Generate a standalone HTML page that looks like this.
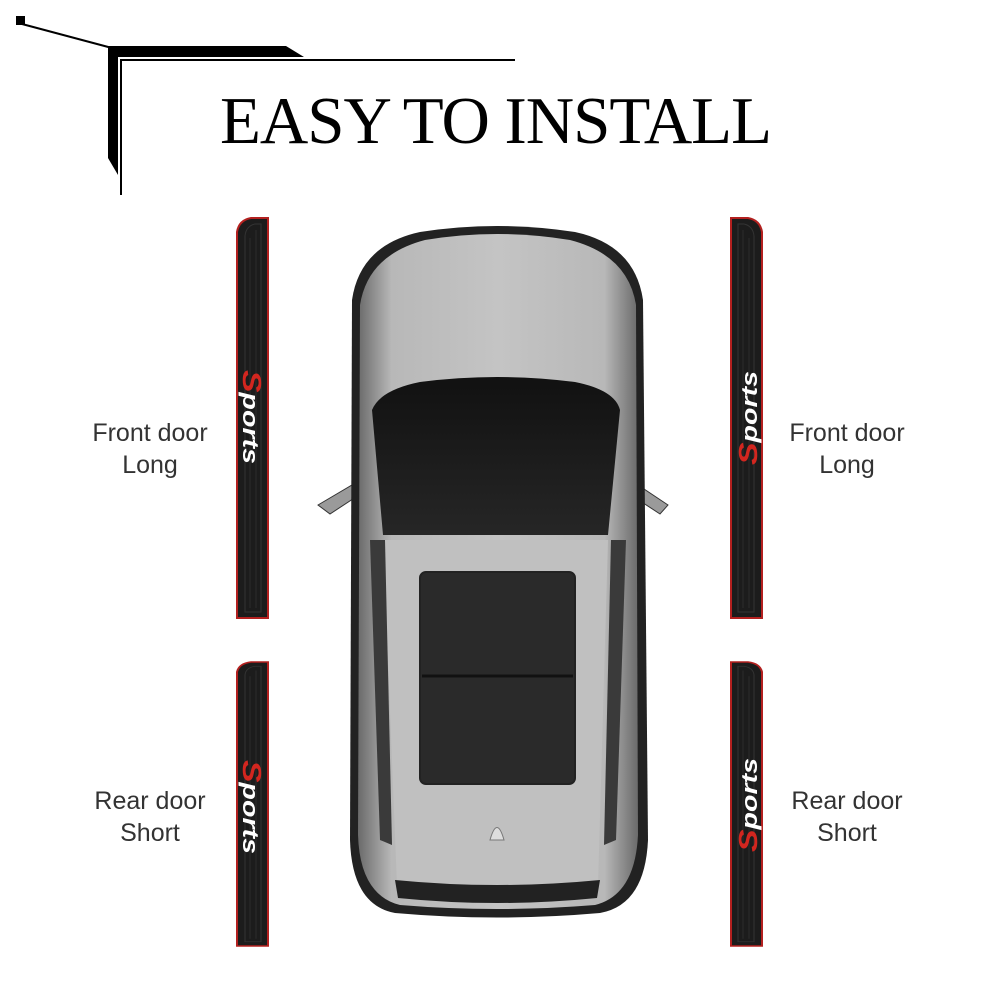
<!DOCTYPE html>
<html><head><meta charset="utf-8"><style>
html,body{margin:0;padding:0;background:#fff;}
#c{position:relative;width:1000px;height:1000px;overflow:hidden;background:#fff;font-family:"Liberation Sans",sans-serif;}
.t{position:absolute;width:200px;text-align:center;font-size:25px;line-height:32px;color:#333;}
</style></head><body><div id="c">
<svg width="1000" height="1000" style="position:absolute;left:0;top:0">
<defs>
<linearGradient id="body" x1="0" x2="1" y1="0" y2="0">
<stop offset="0" stop-color="#6a6a6a"/><stop offset="0.12" stop-color="#b8b8b8"/><stop offset="0.5" stop-color="#c4c4c4"/><stop offset="0.88" stop-color="#b8b8b8"/><stop offset="1" stop-color="#6a6a6a"/>
</linearGradient>
<linearGradient id="glass" x1="0" x2="0" y1="0" y2="1">
<stop offset="0" stop-color="#111"/><stop offset="1" stop-color="#262626"/>
</linearGradient>
<g id="strip">
<path d="M0,14 Q2,2 14,0 L31,0 L31,400 L0,400 Z" fill="#1c1c1c" stroke="#b3201f" stroke-width="2"/>
<path d="M8,18 Q9,8 18,6 L24,6 L24,394 L8,394 Z" fill="none" stroke="#333" stroke-width="1"/>
<path d="M13,20 L13,390 M19,12 L19,390" stroke="#2b2b2b" stroke-width="1"/>
</g>
</defs>
<rect x="16" y="16" width="9" height="9" fill="#000"/>
<line x1="22" y1="24" x2="112" y2="48" stroke="#000" stroke-width="2"/>
<polygon points="108,46 286,46 304,57 118,57 118,175 108,158" fill="#000"/>
<rect x="120" y="59" width="395" height="2" fill="#000"/>
<rect x="120" y="59" width="2" height="136" fill="#000"/>
<text x="220" y="143" font-family="Liberation Serif,serif" font-size="67" fill="#000" textLength="552">EASY TO INSTALL</text>
<g transform="translate(237,218)"><use href="#strip"/></g>
<g transform="translate(237,662) scale(1,0.71)"><use href="#strip"/></g>
<g transform="translate(762,218) scale(-1,1)"><use href="#strip"/></g>
<g transform="translate(762,662) scale(-1,0.71)"><use href="#strip"/></g>
<g font-family="Liberation Sans,sans-serif" font-weight="bold" font-style="italic" font-size="22">
<text transform="translate(243,370) rotate(90)" fill="#fff" textLength="94" lengthAdjust="spacingAndGlyphs"><tspan fill="#d2261f" font-size="26">S</tspan>ports</text>
<text transform="translate(243,760) rotate(90)" fill="#fff" textLength="94" lengthAdjust="spacingAndGlyphs"><tspan fill="#d2261f" font-size="26">S</tspan>ports</text>
<text transform="translate(757,465) rotate(-90)" fill="#fff" textLength="94" lengthAdjust="spacingAndGlyphs"><tspan fill="#d2261f" font-size="26">S</tspan>ports</text>
<text transform="translate(757,852) rotate(-90)" fill="#fff" textLength="94" lengthAdjust="spacingAndGlyphs"><tspan fill="#d2261f" font-size="26">S</tspan>ports</text>
</g>
<path d="M318,505 L352,485 L362,493 L330,514 Z" fill="#9a9a9a" stroke="#333"/>
<path d="M668,505 L638,485 L628,493 L660,514 Z" fill="#9a9a9a" stroke="#333"/>
<path d="M352,300 Q360,245 420,232 Q497,220 575,232 Q635,245 643,300 L648,840 Q645,905 600,913 Q497,922 395,913 Q352,905 350,840 Z" fill="#222"/>
<path d="M360,305 Q368,255 425,240 Q497,228 570,240 Q628,255 636,305 L638,835 Q635,895 595,905 Q497,913 400,905 Q360,895 358,835 Z" fill="url(#body)"/>
<path d="M372,410 Q380,390 420,382 Q497,372 575,382 Q615,390 620,410 L608,535 L383,535 Z" fill="url(#glass)"/>
<path d="M383,540 L608,540 L598,885 L397,885 Z" fill="#c0c0c0"/>
<rect x="420" y="572" width="155" height="212" rx="6" fill="#2a2a2a" stroke="#222" stroke-width="2"/>
<line x1="422" y1="676" x2="573" y2="676" stroke="#111" stroke-width="3"/>
<path d="M370,540 L380,840 L392,845 L385,540 Z" fill="#3a3a3a"/>
<path d="M626,540 L616,840 L604,845 L611,540 Z" fill="#3a3a3a"/>
<path d="M490,840 Q497,815 504,840 Z" fill="#ddd" stroke="#777"/>
<path d="M395,880 Q497,890 600,880 L597,898 Q497,908 398,898 Z" fill="#222"/>
</svg>
<div class="t" style="left:50px;top:417px">Front door<br>Long</div>
<div class="t" style="left:747px;top:417px">Front door<br>Long</div>
<div class="t" style="left:50px;top:785px">Rear door<br>Short</div>
<div class="t" style="left:747px;top:785px">Rear door<br>Short</div>
</div></body></html>
